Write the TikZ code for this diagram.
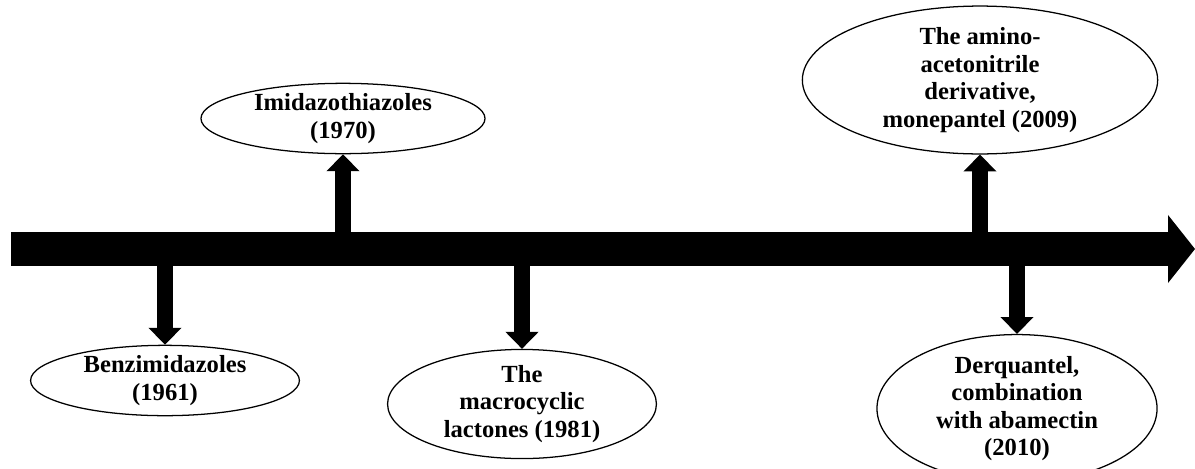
\documentclass[tikz,border=0pt]{standalone}
\usepackage{fontspec}
\setmainfont{Liberation Serif}
\usetikzlibrary{arrows.meta, shapes.geometric}

\begin{document}
\begin{tikzpicture}[x=0.025cm, y=-0.025cm,
  event/.style={draw, ellipse, line width=0.9pt, inner sep=0pt, align=center,
    font=\bfseries\fontsize{17.5}{19.5}\selectfont},
  mainarrow/.style={line width=24.2pt,
    -{Triangle[length=19.2pt, width=48.4pt, line width=0pt]}},
  stem/.style={line width=11pt,
    -{Triangle[length=12pt, width=23.5pt, line width=0pt]}}]
  \useasboundingbox (0,0) rectangle (1195,468);
  \coordinate (L) at (11,249);
  \coordinate (R) at (1195,249);
  \node[event, minimum width=6.72cm, minimum height=1.62cm] (benz) at (165,380.5)
    {Benzimidazoles\\(1961)};
  \node[event, minimum width=7.1cm, minimum height=1.52cm] (imid) at (343,118.5)
    {Imidazothiazoles\\(1970)};
  \node[event, minimum width=6.72cm, minimum height=2.7cm] (macro) at (522,404)
    {The\\macrocyclic\\lactones (1981)};
  \node[event, minimum width=8.88cm, minimum height=3.35cm] (amino) at (980,80)
    {The amino-\\acetonitrile\\derivative,\\monepantel (2009)};
  \node[event, minimum width=7cm, minimum height=2.82cm] (derq) at (1017,408.5)
    {Derquantel,\\combination\\with abamectin\\(2010)};
  \draw[stem] (benz.north |- L) -- (benz.north);
  \draw[stem] (imid.south |- L) -- (imid.south);
  \draw[stem] (macro.north |- L) -- (macro.north);
  \draw[stem] (amino.south |- L) -- (amino.south);
  \draw[stem] (derq.north |- L) -- (derq.north);
  \draw[mainarrow] (L) -- (R);
\end{tikzpicture}
\end{document}
